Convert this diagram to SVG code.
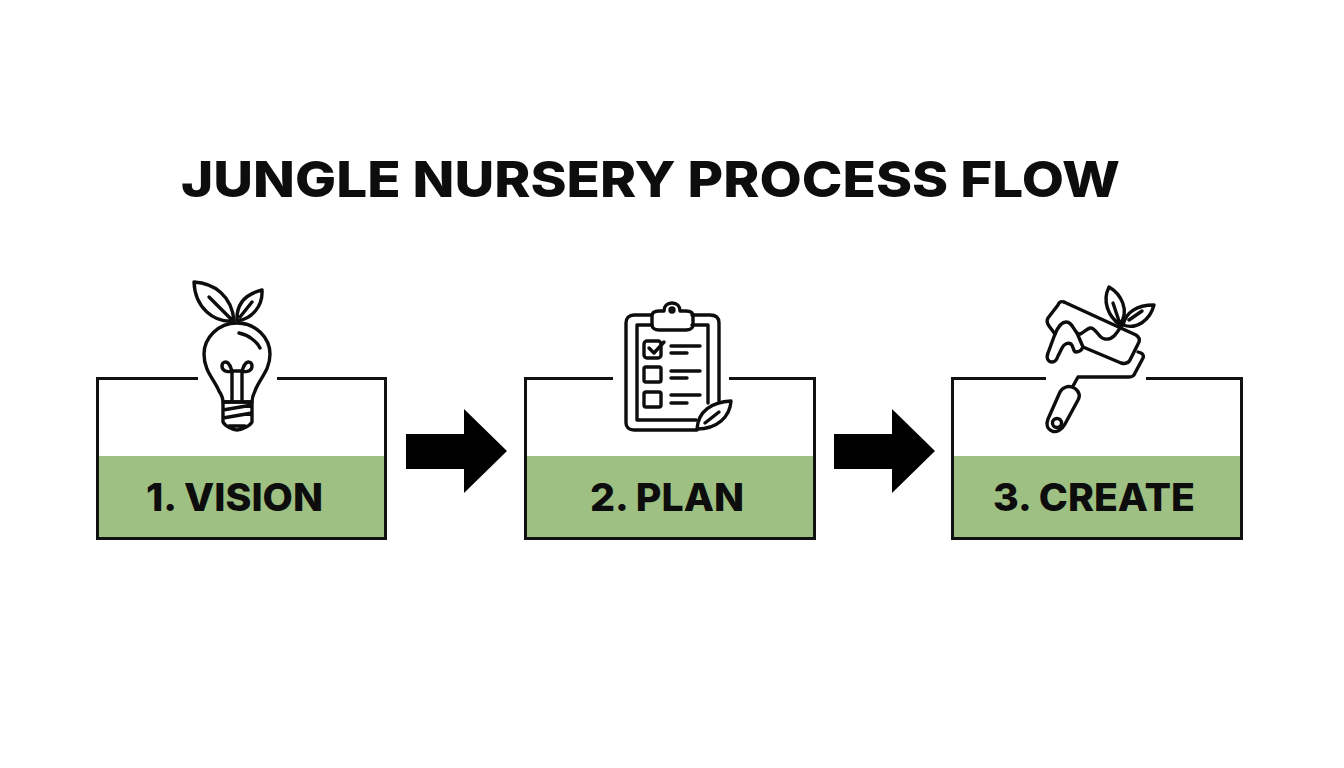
<svg xmlns="http://www.w3.org/2000/svg" width="1344" height="768" viewBox="0 0 1344 768">
<style>
.t{font-family:"Inter","Liberation Sans",sans-serif;font-weight:800;fill:#0d0d0d}
.title{font-size:50px}
.lab{font-size:38px}
.fill{fill:#9fc083}
.box{fill:none;stroke:#111;stroke-width:3}
.ic{fill:none;stroke:#0d0d0d;stroke-width:3.4;stroke-linecap:round;stroke-linejoin:round}
.ar{fill:#000}
</style>
<rect width="1344" height="768" fill="#fff"/>
<text class="t title" x="181" y="197" textLength="939" lengthAdjust="spacingAndGlyphs">JUNGLE NURSERY PROCESS FLOW</text>
<g id="connectors">
<path class="ar" d="M406 434H464V409L507 451L464 493V469H406Z"/>
<path class="ar" d="M834 434H892V409L935 451L892 493V469H834Z"/>
</g>
<g id="node-vision">
<rect class="fill" x="97" y="456" width="289" height="83"/>
<path class="box" d="M198 378.500H97.500V538.500H385.500V378.500H277"/>
<text class="t lab" x="146" y="510.500" textLength="177" lengthAdjust="spacingAndGlyphs">1. VISION</text>
<g class="ic">
<path d="M194 282C214 283 232 296 234 321C214 323 195 308 194 282ZM209 297L232 320"/>
<path d="M237 321C236 303 246 294 262 290C263 306 252 319 237 321ZM240 317L252 302"/>
<path d="M237 323C256 323 270 338 270 354C270 371 259 379 255 391C253 395 252 399 252 402H223C223 398 221 394 219 391C214 379 204 371 204 354C204 338 218 323 237 323Z"/>
<path d="M239 333C249 335 257 342 260 348"/>
<path d="M232 401V371M242 401V371M232 371C226 373 222 370 222 366C222 362 226 361 228 363C231 366 231 369 232 371M232 371H242M242 371C248 373 252 370 252 366C252 362 248 361 246 363C243 366 243 369 242 371"/>
<path d="M223 402H252V422C250 426 241 430 237 430C233 430 225 426 223 422ZM223 410L252 405M223 418L252 413M229 426H245"/>
</g>
</g>
<g id="node-plan">
<rect class="fill" x="525" y="456" width="290" height="83"/>
<path class="box" d="M613 378.500H525.500V538.500H814.500V378.500H729"/>
<text class="t lab" x="590" y="510.500" textLength="154" lengthAdjust="spacingAndGlyphs">2. PLAN</text>
<g class="ic">
<path d="M652 315H634C629 315 626 318 626 323V423C626 427 629 430 634 430H697M692 315H710C716 315 719 318 719 323V401"/>
<path d="M652 325H637V420H696M692 325H708V403"/>
<path d="M652 316C652 312 655 311 659 311H664C664 306 667 303 672 303C677 303 680 306 680 311H686C690 311 693 312 693 316V325C693 328 690 330 686 330H659C655 330 652 328 652 325Z"/>
<circle cx="672" cy="310" r="2"/>
<rect x="644" y="341" width="17" height="17" rx="3"/>
<rect x="644" y="367" width="17" height="15" rx="2"/>
<rect x="644" y="392" width="17" height="15" rx="2"/>
<path d="M649 348L654 353L664 342M671 346H700M671 353H687M671 371H700M671 378H687M671 395H700M671 403H687"/>
<path d="M697 429C698 411 712 402 731 401C730 417 717 429 697 429ZM705 423L719 412"/>
</g>
</g>
<g id="node-create">
<rect class="fill" x="953" y="456" width="289" height="83"/>
<path class="box" d="M1046 378.500H952.500V538.500H1241.500V378.500H1146"/>
<text class="t lab" x="993" y="510.500" textLength="202" lengthAdjust="spacingAndGlyphs">3. CREATE</text>
<g class="ic">
<path d="M1064 302L1136 335C1139 337 1140 339 1139 342L1130 360C1128 364 1125 364 1121 363L1083 347"/>
<path d="M1064 302C1061 301 1059 302 1058 305L1048 318C1046 321 1047 323 1049 326L1055 334"/>
<path d="M1055 334C1058 327 1062 322 1066 322C1072 322 1073 329 1077 333C1081 337 1085 329 1090 328C1096 327 1098 338 1105 339C1113 340 1117 333 1122 325"/>
<path d="M1055 334L1048 353C1046 358 1048 362 1052 362C1055 362 1057 359 1058 356L1062 348C1064 344 1068 342 1071 344C1074 347 1073 352 1076 352C1081 352 1082 349 1083 347L1077 333"/>
<path d="M1138 352L1141 353C1143 354 1144 356 1143 358L1135 373C1134 376 1132 377 1129 377H1078L1073 386"/>
<path d="M1066 387C1071 385 1078 389 1079 394C1080 396 1079 398 1078 400L1065 424C1062 430 1056 433 1052 431C1047 429 1046 424 1048 419L1060 392C1061 390 1063 388 1066 387Z"/>
<circle cx="1057" cy="423" r="4.500"/>
<path d="M1120 325C1108 316 1102 301 1109 287C1121 294 1130 310 1120 325ZM1113 303L1119 321"/>
<path d="M1123 325C1126 312 1137 305 1154 305C1150 320 1137 330 1123 325ZM1129 320L1142 311"/>
</g>
</g>
</svg>
